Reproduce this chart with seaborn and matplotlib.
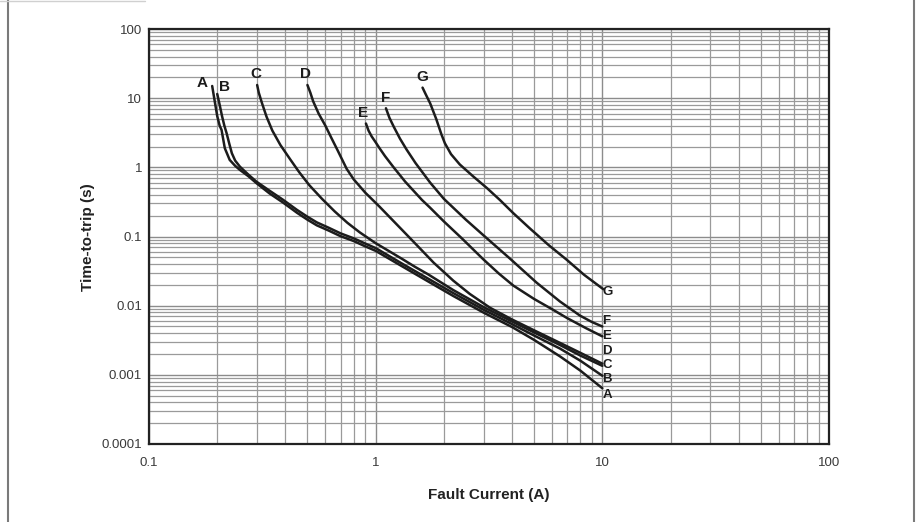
import pandas as pd
import seaborn as sns
import matplotlib.pyplot as plt
from matplotlib.lines import Line2D
from matplotlib.ticker import FixedLocator, LogLocator, NullFormatter

# Trip curves: fault current (A) vs time-to-trip (s)
a_current = [0.19, 0.195, 0.2, 0.205, 0.209, 0.216, 0.227, 0.24, 0.252, 0.275, 0.298, 0.34, 0.39, 0.45,
             0.5, 0.55, 0.62, 0.7, 0.8, 0.9, 1.0, 1.3, 1.7, 2.2, 3.0, 4.0, 5.0, 6.5, 8.0, 10.0]
a_time = [15.0, 9.0, 5.5, 4.0, 3.47, 1.89, 1.28, 1.05, 0.916, 0.74, 0.59, 0.42, 0.31, 0.22,
          0.175, 0.145, 0.122, 0.101, 0.086, 0.072, 0.062, 0.0375, 0.0225, 0.0138, 0.0079, 0.0049, 0.0032, 0.00185, 0.00115, 0.00064]

b_current = [0.2, 0.205, 0.21, 0.215, 0.22, 0.226, 0.232, 0.24, 0.252, 0.275, 0.298, 0.34, 0.39, 0.45,
             0.5, 0.55, 0.62, 0.7, 0.8, 0.9, 1.0, 1.3, 1.7, 2.2, 3.0, 4.0, 5.0, 6.5, 8.0, 10.0]
b_time = [11.5, 8.0, 5.5, 4.0, 3.11, 2.2, 1.6, 1.25, 1.02, 0.78, 0.62, 0.46, 0.34, 0.242,
          0.193, 0.16, 0.134, 0.111, 0.094, 0.079, 0.068, 0.041, 0.0247, 0.0152, 0.0087, 0.0054, 0.0037, 0.0024, 0.0016, 0.00097]

c_current = [0.30, 0.305, 0.315, 0.33, 0.35, 0.38, 0.42, 0.46, 0.51, 0.58, 0.66, 0.75, 0.85, 1.0,
             1.15, 1.3, 1.5, 1.7, 2.2, 3.0, 4.0, 5.0, 6.5, 8.0, 10.0]
c_time = [15.5, 12.0, 8.5, 5.4, 3.4, 2.1, 1.3, 0.85, 0.55, 0.35, 0.23, 0.158, 0.115, 0.08,
          0.061, 0.048, 0.036, 0.0285, 0.0168, 0.0095, 0.0059, 0.0041, 0.0027, 0.0019, 0.00135]

d_current = [0.50, 0.515, 0.53, 0.56, 0.6, 0.64, 0.68, 0.745, 0.8, 0.9, 1.04, 1.3, 1.55, 1.8, 2.2,
             2.6, 3.2, 4.0, 5.0, 6.5, 8.0, 10.0]
d_time = [15.5, 12.0, 9.0, 6.0, 4.0, 2.6, 1.75, 0.95, 0.67, 0.43, 0.27, 0.127, 0.07, 0.042, 0.023,
          0.0148, 0.0093, 0.0063, 0.0044, 0.0029, 0.00208, 0.00145]

e_current = [0.906, 0.93, 0.96, 1.0, 1.04, 1.1, 1.2, 1.35, 1.6, 1.74, 2.0, 2.4, 2.98, 3.5, 4.05,
             5.0, 6.07, 7.0, 8.5, 10.0]
e_time = [4.3, 3.4, 2.8, 2.3, 1.89, 1.45, 1.0, 0.62, 0.338, 0.26, 0.165, 0.094, 0.047, 0.029, 0.0195,
          0.0125, 0.0087, 0.0066, 0.0047, 0.0036]

f_current = [1.11, 1.15, 1.2, 1.28, 1.37, 1.5, 1.74, 2.0, 2.5, 3.0, 3.91, 5.13, 6.5, 7.96, 9.0, 10.0]
f_time = [7.15, 5.2, 3.9, 2.6, 1.8, 1.15, 0.6, 0.35, 0.175, 0.103, 0.048, 0.0215, 0.0115, 0.0072, 0.0058, 0.005]

g_current = [1.61, 1.66, 1.74, 1.85, 1.95, 2.02, 2.15, 2.35, 2.7, 3.1, 3.53, 4.05, 4.8, 5.8, 6.97, 8.3, 10.1]
g_time = [14.2, 11.5, 8.4, 5.0, 3.0, 2.23, 1.55, 1.1, 0.734, 0.5, 0.338, 0.217, 0.13, 0.075, 0.046, 0.028, 0.0173]

curve_names = ["A", "B", "C", "D", "E", "F", "G"]
currents = [a_current, b_current, c_current, d_current, e_current, f_current, g_current]
times = [a_time, b_time, c_time, d_time, e_time, f_time, g_time]

# label positions (top of curve / right end)
top_label_x = [0.171, 0.215, 0.296, 0.491, 0.877, 1.107, 1.60]
top_label_y = [16.4, 14.7, 22.1, 22.0, 6.17, 10.2, 20.0]
end_label_y = [0.000514, 0.000876, 0.001395, 0.00222, 0.00366, 0.00603, 0.016]

y_ticks = [0.0001, 0.001, 0.01, 0.1, 1, 10, 100]
y_tick_labels = ["0.0001", "0.001", "0.01", "0.1", "1", "10", "100"]
x_ticks = [0.1, 1, 10, 100]
x_tick_labels = ["0.1", "1", "10", "100"]

rows = []
for name, xs, ys in zip(curve_names, currents, times):
    for x, y in zip(xs, ys):
        rows.append({"curve": name, "current": x, "time": y})
df = pd.DataFrame(rows)

sns.set_style("white")
plt.rcParams['font.family'] = ['Liberation Sans', 'DejaVu Sans']

fig = plt.figure(figsize=(9.19, 5.22), dpi=100)
ax = fig.add_axes([149 / 919, 78 / 522, 680 / 919, 415 / 522])

ax.set_xscale("log")
ax.set_yscale("log")
ax.set_xlim(0.1, 100)
ax.set_ylim(0.0001, 100)

sns.lineplot(data=df, x="current", y="time", units="curve", estimator=None,
             color="#1c1c1c", linewidth=1.8, sort=False, legend=False, ax=ax, zorder=3)

# grid
ax.xaxis.set_minor_locator(LogLocator(base=10, subs=range(2, 10)))
ax.yaxis.set_minor_locator(LogLocator(base=10, subs=range(2, 10)))
ax.xaxis.set_minor_formatter(NullFormatter())
ax.yaxis.set_minor_formatter(NullFormatter())
ax.grid(True, which="major", color="#8c8c8c", linewidth=1.0)
ax.grid(True, which="minor", color="#9a9a9a", linewidth=0.9)

ax.xaxis.set_major_locator(FixedLocator(x_ticks))
ax.yaxis.set_major_locator(FixedLocator(y_ticks))
ax.set_xticklabels(x_tick_labels)
ax.set_yticklabels(y_tick_labels)
ax.tick_params(which="both", length=0, labelsize=9.5, labelcolor="#3a3a3a")
ax.tick_params(axis="x", pad=9)
ax.tick_params(axis="y", pad=5)

for s in ax.spines.values():
    s.set_color("#222222")
    s.set_linewidth(1.6)

ax.set_xlabel("")
ax.set_ylabel("")

for name, lx, ly, ey in zip(curve_names, top_label_x, top_label_y, end_label_y):
    ax.text(lx, ly, name, ha="center", va="center", fontsize=11, fontweight="bold", color="#1c1c1c")
    ax.text(10.0, ey, name, ha="left", va="center", fontsize=9.5, fontweight="bold", color="#1c1c1c")

fig.text(489 / 919, 1 - 495 / 522, "Fault Current (A)", ha="center", va="center",
         fontsize=11, fontweight="bold", color="#222222")
fig.text(88 / 919, 1 - 237 / 522, "Time-to-trip (s)", ha="center", va="center",
         rotation=90, fontsize=11, fontweight="bold", color="#222222")

# page frame
fig.add_artist(Line2D([8 / 919, 8 / 919], [0, 1], transform=fig.transFigure, color="#7a7a7a", lw=1.5))
fig.add_artist(Line2D([914 / 919, 914 / 919], [0, 1], transform=fig.transFigure, color="#7a7a7a", lw=1.5))
fig.add_artist(Line2D([0, 145 / 919], [1 - 1 / 522, 1 - 1 / 522], transform=fig.transFigure, color="#d0d0d0", lw=1.0))

fig.savefig("out.png", dpi=100)
